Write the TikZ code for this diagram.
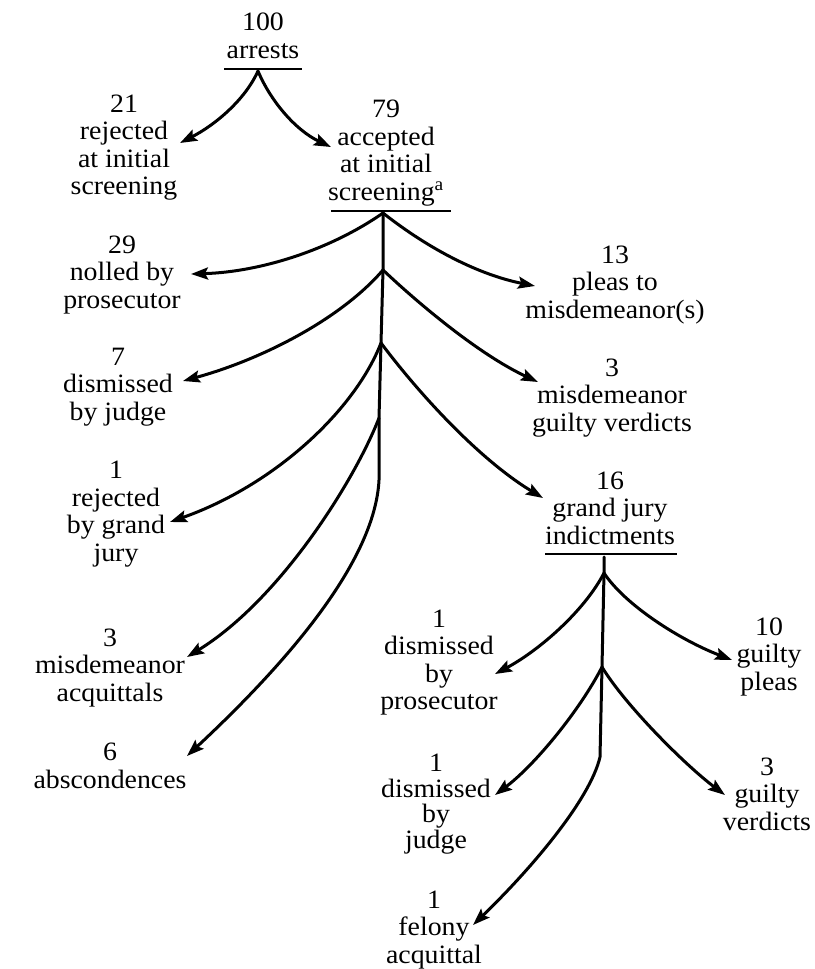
\documentclass[tikz,border=0pt]{standalone}
\usepackage{fontspec}
\setmainfont{Liberation Serif}[FakeStretch=1.05]
\usetikzlibrary{arrows.meta}
\begin{document}
\begin{tikzpicture}[x=1pt,y=-1pt,
  lbl/.style={font=\fontsize{26.5}{27.5}\selectfont, align=center, inner sep=0pt, anchor=base},
  conn/.style={line width=3pt, line cap=round, -{Stealth[length=17pt,width=12pt,inset=3pt]}},
  ul/.style={line width=2.8pt}]
\useasboundingbox[fill=white] (0,0) rectangle (814,969);

% labels (anchored at the baseline of the last line)
\node[lbl] (arrests) at (263,58) {100\\arrests};
\node[lbl] (rej21) at (124,194.5) {21\\rejected\\at initial\\screening};
\node[lbl] (acc79) at (386,200) {79\\accepted\\at initial\\screening\textsuperscript{a}};
\node[lbl] (nol29) at (122,308) {29\\nolled by\\prosecutor};
\node[lbl] (dis7) at (118,420) {7\\dismissed\\by judge};
\node[lbl] (rgj1) at (116,561) {1\\rejected\\by grand\\jury};
\node[lbl] (acq3) at (110,701) {3\\misdemeanor\\acquittals};
\node[lbl] (abs6) at (110,788) {6\\abscondences};
\node[lbl] (ple13) at (615,318) {13\\pleas to\\misdemeanor(s)};
\node[lbl] (mgv3) at (612,431) {3\\misdemeanor\\guilty verdicts};
\node[lbl] (gji16) at (610,544) {16\\grand jury\\indictments};
\node[lbl] (gp10) at (769,690) {10\\guilty\\pleas};
\node[lbl] (gv3) at (767,830) {3\\guilty\\verdicts};
\node[lbl] (dbp1) at (439,709.5) {1\\dismissed\\by\\prosecutor};
\node[lbl, font=\fontsize{26.5}{25.5}\selectfont] (dbj1) at (436,848) {1\\dismissed\\by\\judge};
\node[lbl] (fel1) at (434,963) {1\\felony\\acquittal};

% underlines
\draw[ul] (224,69) -- (302,69);
\draw[ul] (331,211) -- (451,211);
\draw[ul] (545,554) -- (677,554);

% fork points
\coordinate (f0) at (258,71);
\coordinate (fA) at (383,213);
\coordinate (fB) at (383,270);
\coordinate (fC) at (381,343);
\coordinate (fX) at (379,418);
\coordinate (fT) at (379,480);
\coordinate (gT) at (604,557);
\coordinate (fD) at (604,573);
\coordinate (fE) at (602,667);
\coordinate (gB) at (600,757);

% arrow tips
\coordinate (t21) at (180,143);
\coordinate (t79) at (331,147);
\coordinate (t29) at (191,274);
\coordinate (t13) at (535,286);
\coordinate (t7) at (183,381);
\coordinate (t3m) at (538,382);
\coordinate (tgj) at (170,522);
\coordinate (t16) at (543,498);
\coordinate (tacq) at (187,657);
\coordinate (tabs) at (187,756);
\coordinate (tdbp) at (495,674);
\coordinate (t10) at (732,660);
\coordinate (tdbj) at (495,795);
\coordinate (tgv) at (725,795);
\coordinate (tfel) at (473,925);

% top fork
\draw[conn] (f0) .. controls (245,100) and (215,125) .. (t21);
\draw[conn] (f0) .. controls (270,100) and (295,130) .. (t79);

% main trunk
\draw[conn] (fA) -- (fB) -- (fC) -- (fX) -- (fT) .. controls (375,560) and (290,660) .. (tabs);
\draw[conn] (fA) .. controls (330,250) and (260,272) .. (t29);
\draw[conn] (fA) .. controls (430,250) and (480,275) .. (t13);
\draw[conn] (fB) .. controls (340,320) and (260,360) .. (t7);
\draw[conn] (fB) .. controls (420,305) and (480,355) .. (t3m);
\draw[conn] (fC) .. controls (355,410) and (275,485) .. (tgj);
\draw[conn] (fC) .. controls (420,395) and (480,460) .. (t16);
\draw[conn] (fX) .. controls (355,480) and (280,600) .. (tacq);

% grand jury subtree
\draw[conn] (gT) -- (fD) -- (fE) -- (gB) .. controls (590,800) and (530,870) .. (tfel);
\draw[conn] (fD) .. controls (585,610) and (540,650) .. (tdbp);
\draw[conn] (fD) .. controls (625,605) and (680,640) .. (t10);
\draw[conn] (fE) .. controls (580,710) and (535,765) .. (tdbj);
\draw[conn] (fE) .. controls (625,705) and (685,765) .. (tgv);
\end{tikzpicture}
\end{document}
